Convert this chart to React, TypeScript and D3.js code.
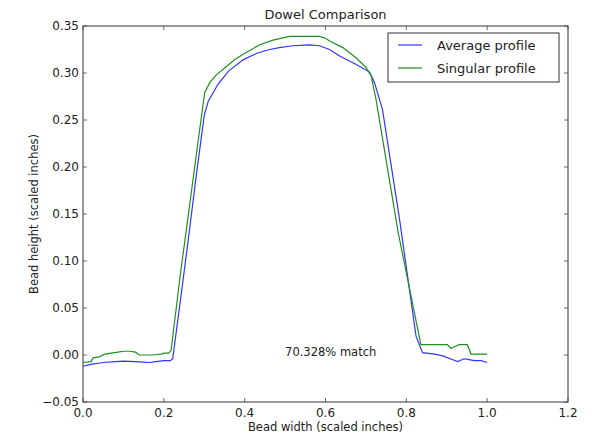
import { useRef, useEffect } from 'react';
import * as d3 from 'd3';

// Average profile samples
const avgX = [0.0, 0.02, 0.05, 0.08, 0.1, 0.13, 0.15, 0.165, 0.18, 0.2, 0.216, 0.222, 0.24, 0.26, 0.28, 0.30, 0.31, 0.334, 0.36, 0.396, 0.43, 0.462, 0.486, 0.519, 0.56, 0.585, 0.61, 0.635, 0.676, 0.709, 0.721, 0.741, 0.783, 0.824, 0.84, 0.87, 0.89, 0.915, 0.927, 0.943, 0.955, 0.968, 0.985, 1.0];
const avgY = [-0.012, -0.010, -0.008, -0.007, -0.0065, -0.007, -0.0075, -0.008, -0.007, -0.006, -0.006, -0.004, 0.055, 0.121, 0.19, 0.255, 0.270, 0.288, 0.302, 0.314, 0.321, 0.325, 0.327, 0.329, 0.330, 0.329, 0.325, 0.318, 0.309, 0.301, 0.290, 0.261, 0.145, 0.020, 0.0025, 0.001, -0.001, -0.005, -0.007, -0.004, -0.005, -0.006, -0.006, -0.008];

// Singular profile samples
const singX = [0.0, 0.02, 0.025, 0.04, 0.054, 0.07, 0.086, 0.1, 0.116, 0.13, 0.136, 0.14, 0.17, 0.194, 0.2, 0.212, 0.218, 0.24, 0.26, 0.28, 0.301, 0.314, 0.33, 0.355, 0.375, 0.396, 0.417, 0.437, 0.47, 0.511, 0.55, 0.585, 0.60, 0.61, 0.643, 0.676, 0.70, 0.713, 0.725, 0.78, 0.836, 0.87, 0.902, 0.91, 0.92, 0.931, 0.951, 0.96, 1.0];
const singY = [-0.008, -0.007, -0.003, -0.002, 0.001, 0.002, 0.003, 0.004, 0.004, 0.003, 0.001, 0.0, 0.0, 0.001, 0.002, 0.002, 0.005, 0.083, 0.147, 0.212, 0.279, 0.290, 0.298, 0.307, 0.314, 0.320, 0.325, 0.330, 0.335, 0.339, 0.339, 0.339, 0.337, 0.334, 0.327, 0.316, 0.306, 0.297, 0.272, 0.130, 0.011, 0.011, 0.011, 0.007, 0.009, 0.011, 0.011, 0.001, 0.001];

const xTicks = [0.0, 0.2, 0.4, 0.6, 0.8, 1.0, 1.2];
const yTicks = [-0.05, 0.0, 0.05, 0.10, 0.15, 0.20, 0.25, 0.30, 0.35];
const seriesNames = ["Average profile", "Singular profile"];
const seriesColors = ["#3333ff", "#1f8f1f"];

function App() {

    const svgRef = useRef<SVGSVGElement>(null);

    useEffect(() => {
        document.body.style.margin = "0";

        const width = 592;
        const height = 437;
        const margin = { top: 26, right: 24, bottom: 35, left: 83 };
        const font = "DejaVu Sans, sans-serif";
        const ink = "#222";

        const svg = d3.select(svgRef.current)
            .attr("width", width)
            .attr("height", height);
        svg.selectAll("*").remove();

        const x = d3.scaleLinear().domain([0, 1.2]).range([margin.left, width - margin.right]);
        const y = d3.scaleLinear().domain([-0.05, 0.35]).range([height - margin.bottom, margin.top]);

        const line = d3.line<[number, number]>()
            .x(d => x(d[0]))
            .y(d => y(d[1]));

        const series = [
            d3.zip(avgX, avgY) as [number, number][],
            d3.zip(singX, singY) as [number, number][]
        ];

        series.forEach((s, i) => {
            svg.append("path")
                .datum(s)
                .attr("fill", "none")
                .attr("stroke", seriesColors[i])
                .attr("stroke-width", 1.2)
                .attr("d", line);
        });

        //Ticks pointing inwards on all sides
        const tickLen = 4;
        const [x0, x1] = x.range();
        const [y0, y1] = y.range();
        const ticks = svg.append("g").attr("stroke", "#444").attr("stroke-width", 0.8);
        xTicks.forEach(t => {
            ticks.append("line").attr("x1", x(t)).attr("x2", x(t)).attr("y1", y0).attr("y2", y0 - tickLen);
            ticks.append("line").attr("x1", x(t)).attr("x2", x(t)).attr("y1", y1).attr("y2", y1 + tickLen);
        });
        yTicks.forEach(t => {
            ticks.append("line").attr("x1", x0).attr("x2", x0 + tickLen).attr("y1", y(t)).attr("y2", y(t));
            ticks.append("line").attr("x1", x1).attr("x2", x1 - tickLen).attr("y1", y(t)).attr("y2", y(t));
        });

        //Frame
        svg.append("rect")
            .attr("x", x0).attr("y", y1)
            .attr("width", x1 - x0).attr("height", y0 - y1)
            .attr("fill", "none")
            .attr("stroke", "#444")
            .attr("stroke-width", 1.1);

        //Tick labels
        svg.append("g").selectAll("text")
            .data(xTicks)
            .join("text")
            .attr("x", d => x(d))
            .attr("y", y0 + 15)
            .attr("text-anchor", "middle")
            .attr("font-family", font)
            .attr("font-size", "12px")
            .attr("fill", ink)
            .text(d => d3.format(".1f")(d));

        svg.append("g").selectAll("text")
            .data(yTicks)
            .join("text")
            .attr("x", x0 - 4)
            .attr("y", d => y(d))
            .attr("dy", "0.35em")
            .attr("text-anchor", "end")
            .attr("font-family", font)
            .attr("font-size", "12px")
            .attr("fill", ink)
            .text(d => d3.format(".2f")(d).replace("-", "\u2212"));

        //Title and axis labels
        svg.append("text")
            .attr("x", (x0 + x1) / 2)
            .attr("y", 19)
            .attr("text-anchor", "middle")
            .attr("font-family", font)
            .attr("font-size", "13px")
            .attr("fill", ink)
            .text("Dowel Comparison");

        svg.append("text")
            .attr("x", (x0 + x1) / 2)
            .attr("y", 431)
            .attr("text-anchor", "middle")
            .attr("font-family", font)
            .attr("font-size", "11.5px")
            .attr("fill", ink)
            .text("Bead width (scaled inches)");

        svg.append("text")
            .attr("transform", `translate(38,${(y0 + y1) / 2}) rotate(-90)`)
            .attr("text-anchor", "middle")
            .attr("font-family", font)
            .attr("font-size", "11.5px")
            .attr("fill", ink)
            .text("Bead height (scaled inches)");

        svg.append("text")
            .attr("x", x(0.5))
            .attr("y", y(-0.001))
            .attr("font-family", font)
            .attr("font-size", "11.5px")
            .attr("fill", ink)
            .text("70.328% match");

        //Legend
        const legend = svg.append("g");
        legend.append("rect")
            .attr("x", 388).attr("y", 33)
            .attr("width", 171).attr("height", 49)
            .attr("fill", "#fff")
            .attr("stroke", "#333")
            .attr("stroke-width", 1);
        seriesNames.forEach((name, i) => {
            const ly = 45 + i * 23;
            legend.append("line")
                .attr("x1", 398).attr("x2", 422)
                .attr("y1", ly).attr("y2", ly)
                .attr("stroke", seriesColors[i])
                .attr("stroke-width", 1.2);
            legend.append("text")
                .attr("x", 437)
                .attr("y", ly)
                .attr("dy", "0.35em")
                .attr("font-family", font)
                .attr("font-size", "13px")
                .attr("fill", ink)
                .text(name);
        });
    }, []);

    return <svg ref={svgRef} style={{ display: "block" }} />;
}

export default App;
